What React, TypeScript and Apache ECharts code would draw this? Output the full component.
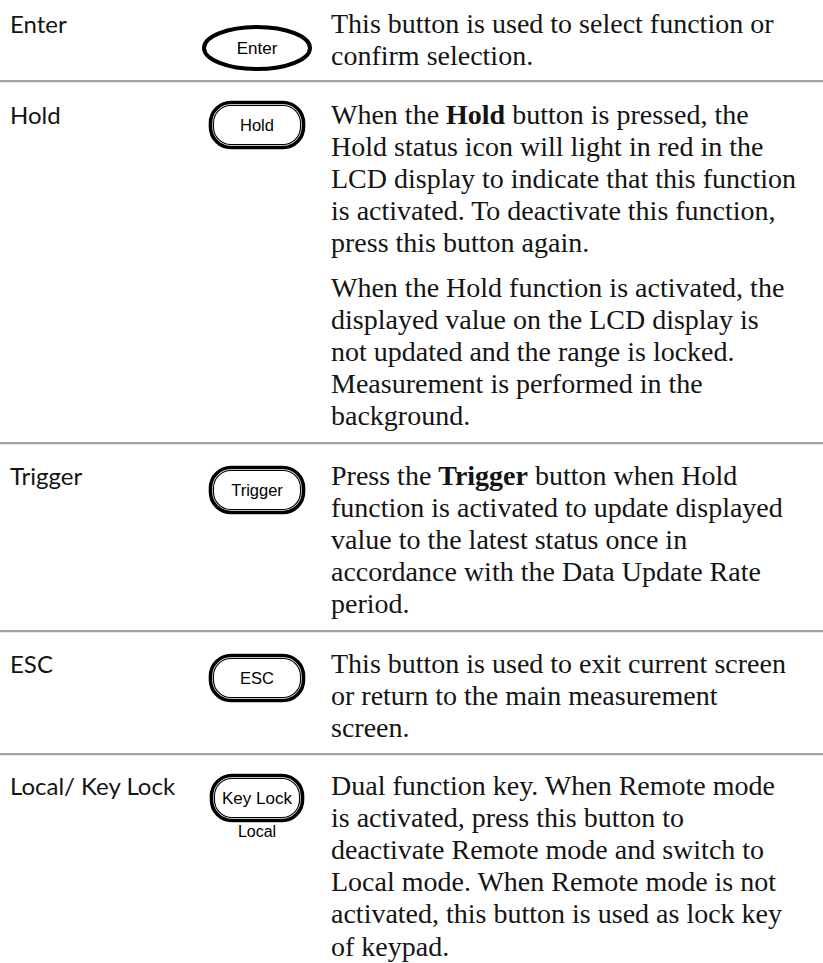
import React, { useEffect, useRef } from "react";
import * as echarts from "echarts";

const rowLabels = ["Enter", "Hold", "Trigger", "ESC", "Local/ Key Lock"];
const buttonTexts = ["Enter", "Hold", "Trigger", "ESC", "Key Lock"];
const keyLockSubText = "Local";

const enterLines = ["This button is used to select function or", "confirm selection."];
const holdLines1 = [
  "When the {b|Hold} button is pressed, the",
  "Hold status icon will light in red in the",
  "LCD display to indicate that this function",
  "is activated. To deactivate this function,",
  "press this button again.",
];
const holdLines2 = [
  "When the Hold function is activated, the",
  "displayed value on the LCD display is",
  "not updated and the range is locked.",
  "Measurement is performed in the",
  "background.",
];
const triggerLines = [
  "Press the {b|Trigger} button when Hold",
  "function is activated to update displayed",
  "value to the latest status once in",
  "accordance with the Data Update Rate",
  "period.",
];
const escLines = [
  "This button is used to exit current screen",
  "or return to the main measurement",
  "screen.",
];
const localLines = [
  "Dual function key. When Remote mode",
  "is activated, press this button to",
  "deactivate Remote mode and switch to",
  "Local mode. When Remote mode is not",
  "activated, this button is used as lock key",
  "of keypad.",
];

const LINE = 32.2;
const BODY_X = 331;
const LABEL_X = 10;
const BTN_CX = 257;
const SERIF = "'Liberation Serif', 'DejaVu Serif', serif";
const SANS = "Lato, 'Open Sans', sans-serif";
const ARIAL = "'Liberation Sans', Arial, sans-serif";
const BODY_SIZE = 28;
const INK = "#141414";

export default function App() {
  const ref = useRef<HTMLDivElement>(null);
  useEffect(() => {
    document.body.style.margin = "0";
    const chart = echarts.init(ref.current!, undefined, { renderer: "svg" });
    const els: any[] = [];

    const bodyPara = (lines: string[], y0: number) => {
      lines.forEach((t, i) => {
        els.push({
          type: "text",
          x: BODY_X,
          y: y0 + i * LINE,
          style: {
            text: t,
            fontFamily: SERIF,
            fontSize: BODY_SIZE,
            fill: INK,
            verticalAlign: "middle",
            align: "left",
            rich: {
              b: { fontFamily: SERIF, fontSize: BODY_SIZE, fontWeight: "bold", fill: INK },
            },
          },
        });
      });
    };
    const label = (t: string, y: number) => {
      els.push({
        type: "text",
        x: LABEL_X,
        y,
        style: { text: t, fontFamily: SANS, fontSize: 24, fill: INK, verticalAlign: "middle" },
      });
    };
    const sep = (y: number) => {
      els.push({
        type: "rect",
        shape: { x: 0, y: y - 1, width: 823, height: 2.2 },
        style: { fill: "#a3a3a3" },
      });
    };
    const pill = (t: string, cy: number, w: number, h: number, fs: number) => {
      els.push({
        type: "rect",
        shape: { x: BTN_CX - w / 2, y: cy - h / 2, width: w, height: h, r: h / 2 - 2 },
        style: { fill: "#fff", stroke: "#000", lineWidth: 3.6 },
      });
      els.push({
        type: "rect",
        shape: { x: BTN_CX - w / 2 + 3, y: cy - h / 2 + 3, width: w - 6, height: h - 6, r: h / 2 - 5 },
        style: { fill: "none", stroke: "#000", lineWidth: 1.1 },
      });
      els.push({
        type: "text",
        x: BTN_CX,
        y: cy,
        style: { text: t, fontFamily: ARIAL, fontSize: fs, fill: "#000", align: "center", verticalAlign: "middle" },
      });
    };

    // Row 1: Enter
    label(rowLabels[0], 23);
    bodyPara(enterLines, 23);
    els.push({
      type: "ellipse",
      shape: { cx: BTN_CX, cy: 48, rx: 53, ry: 21 },
      style: { fill: "#fff", stroke: "#000", lineWidth: 4 },
    });
    els.push({
      type: "text",
      x: BTN_CX,
      y: 48,
      style: { text: buttonTexts[0], fontFamily: ARIAL, fontSize: 17, fill: "#000", align: "center", verticalAlign: "middle" },
    });
    sep(81);

    // Row 2: Hold
    label(rowLabels[1], 114);
    bodyPara(holdLines1, 114);
    bodyPara(holdLines2, 287);
    pill(buttonTexts[1], 125, 93, 45, 16.5);
    sep(443);

    // Row 3: Trigger
    label(rowLabels[2], 475);
    bodyPara(triggerLines, 475);
    pill(buttonTexts[2], 490, 93, 45, 16.5);
    sep(631);

    // Row 4: ESC
    label(rowLabels[3], 663);
    bodyPara(escLines, 663);
    pill(buttonTexts[3], 678, 93, 45, 16.5);
    sep(754);

    // Row 5: Local / Key Lock
    label(rowLabels[4], 785);
    bodyPara(localLines, 785);
    pill(buttonTexts[4], 798, 91, 45, 17);
    els.push({
      type: "text",
      x: BTN_CX,
      y: 831,
      style: { text: keyLockSubText, fontFamily: ARIAL, fontSize: 16, fill: "#000", align: "center", verticalAlign: "middle" },
    });

    chart.setOption({
      animation: false,
      backgroundColor: "#fff",
      graphic: els,
    });
    return () => chart.dispose();
  }, []);
  return <div ref={ref} style={{ width: 823, height: 963 }} />;
}
